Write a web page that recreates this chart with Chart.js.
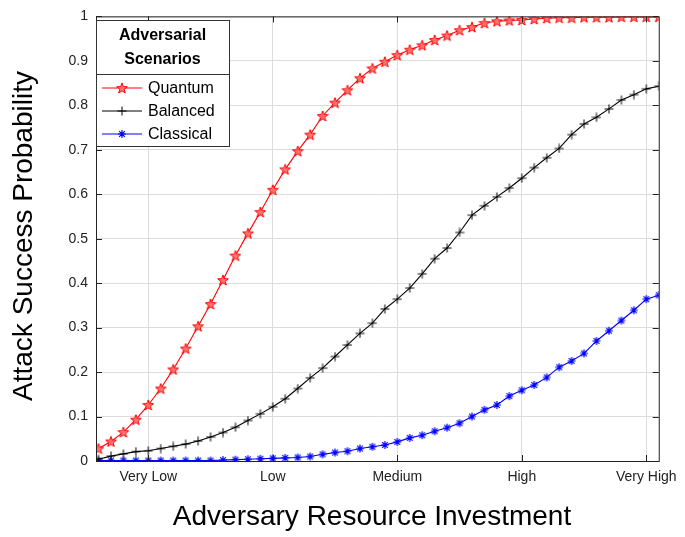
<!DOCTYPE html>
<html><head><meta charset="utf-8">
<script src="https://cdn.jsdelivr.net/npm/chart.js@4"></script>
<style>body{margin:0;background:#fff}canvas{display:block}</style>
</head><body><canvas id="c" width="685" height="537"></canvas>
<script>
const categories=['Very Low','Low','Medium','High','Very High'];
const categoryPositions=[4,14,24,34,44];
const quantum=[0.028,0.044,0.065,0.093,0.126,0.163,0.206,0.253,0.303,0.353,0.407,0.462,0.512,0.560,0.610,0.656,0.697,0.734,0.776,0.806,0.834,0.861,0.883,0.898,0.913,0.925,0.935,0.947,0.957,0.969,0.976,0.985,0.989,0.991,0.992,0.994,0.996,0.997,0.997,0.998,0.998,0.998,0.999,0.999,0.999,0.999];
const balanced=[0.004,0.011,0.016,0.021,0.023,0.028,0.033,0.038,0.045,0.054,0.064,0.076,0.091,0.106,0.122,0.140,0.163,0.187,0.209,0.235,0.261,0.287,0.310,0.342,0.364,0.389,0.421,0.455,0.479,0.514,0.553,0.574,0.594,0.614,0.636,0.660,0.682,0.703,0.734,0.758,0.773,0.792,0.812,0.824,0.837,0.843];
const classical=[0.001,0.001,0.001,0.001,0.001,0.001,0.001,0.001,0.001,0.001,0.002,0.003,0.004,0.005,0.006,0.007,0.008,0.010,0.015,0.019,0.022,0.028,0.032,0.036,0.043,0.052,0.058,0.067,0.075,0.085,0.100,0.115,0.126,0.146,0.159,0.171,0.188,0.211,0.225,0.242,0.270,0.293,0.316,0.339,0.364,0.373];
const seriesNames=['Quantum','Balanced','Classical'];
const yTicks=[0,0.1,0.2,0.3,0.4,0.5,0.6,0.7,0.8,0.9,1];

function mk(size,draw){const c=document.createElement('canvas');c.width=size;c.height=size;const g=c.getContext('2d');draw(g,size/2);return c;}
const pent=mk(12,(g,m)=>{g.beginPath();for(let i=0;i<10;i++){const r=i%2?2.3:5.6;const a=-Math.PI/2+i*Math.PI/5;g.lineTo(m+r*Math.cos(a),m+0.5+r*Math.sin(a));}g.closePath();g.fillStyle='rgba(255,110,110,0.9)';g.fill();g.strokeStyle='#f00';g.lineWidth=1;g.stroke();});
const plus=mk(10,(g,m)=>{g.strokeStyle='#000';g.lineWidth=1;g.beginPath();g.moveTo(m,m-4.5);g.lineTo(m,m+4.5);g.moveTo(m-4.5,m);g.lineTo(m+4.5,m);g.stroke();});
const aster=mk(10,(g,m)=>{g.strokeStyle='#00f';g.lineWidth=1.2;g.beginPath();for(let i=0;i<4;i++){const a=i*Math.PI/4;g.moveTo(m-4*Math.cos(a),m-4*Math.sin(a));g.lineTo(m+4*Math.cos(a),m+4*Math.sin(a));}g.stroke();});
const markers=[pent,plus,aster];const colors=['#ff0000','#000000','#0000ff'];
const sets=[quantum,balanced,classical];

const deco={id:'deco',afterDraw(ch){const g=ch.ctx,a=ch.chartArea;g.save();
g.strokeStyle='#222';g.lineWidth=1;g.strokeRect(a.left+0.5,a.top+0.5,a.right-a.left,a.bottom-a.top);
const x=ch.scales.x,y=ch.scales.y;g.beginPath();
categoryPositions.forEach(v=>{const px=Math.round(x.getPixelForValue(v))+0.5;g.moveTo(px,a.bottom);g.lineTo(px,a.bottom-6);g.moveTo(px,a.top);g.lineTo(px,a.top+6);});
yTicks.forEach(v=>{const py=Math.round(y.getPixelForValue(v))+0.5;g.moveTo(a.left,py);g.lineTo(a.left+6,py);g.moveTo(a.right,py);g.lineTo(a.right-6,py);});g.stroke();
g.fillStyle='#000';g.font='28px Arial, "Liberation Sans"';g.textAlign='center';g.textBaseline='middle';
g.fillText('Adversary Resource Investment',372,517);
g.translate(24,236);g.rotate(-Math.PI/2);g.fillText('Attack Success Probability',0,0);g.restore();
g.save();const L=96,T=20,W=133,H=126;g.fillStyle='#fff';g.fillRect(L,T,W,H);g.strokeStyle='#333';g.lineWidth=1;g.strokeRect(L+0.5,T+0.5,W,H);
g.beginPath();g.moveTo(L,T+54.5);g.lineTo(L+W,T+54.5);g.stroke();
g.fillStyle='#000';g.font='bold 16px Arial, "Liberation Sans"';g.textAlign='center';g.textBaseline='middle';
g.fillText('Adversarial',L+W/2,T+16);g.fillText('Scenarios',L+W/2,T+40);
g.font='16px Arial, "Liberation Sans"';g.textAlign='left';
seriesNames.forEach((n,i)=>{const yy=T+68+i*23;g.strokeStyle=colors[i];g.lineWidth=1;g.beginPath();g.moveTo(L+6,yy);g.lineTo(L+46,yy);g.stroke();
g.drawImage(markers[i],L+26-markers[i].width/2,yy-markers[i].height/2);g.fillStyle='#000';g.fillText(n,L+52,yy+1);});
g.restore();}};

new Chart(document.getElementById('c'),{type:'line',
data:{datasets:sets.map((s,i)=>({label:seriesNames[i],data:s.map((v,k)=>({x:k,y:v})),borderColor:colors[i],backgroundColor:colors[i],borderWidth:1.1,pointStyle:markers[i],pointRadius:5,tension:0,fill:false}))},
options:{responsive:false,animation:false,layout:{padding:{top:3,right:16,left:0,bottom:0}},
plugins:{legend:{display:false},tooltip:{enabled:false}},
scales:{x:{type:'linear',min:-0.2,max:45,afterBuildTicks:s=>{s.ticks=categoryPositions.map(v=>({value:v}));},
ticks:{callback:(v)=>{const i=categoryPositions.indexOf(v);return i>=0?categories[i]:'';},font:{size:14,family:'Arial'},color:'#222',maxRotation:0,autoSkip:false,padding:8},
grid:{color:'#dcdcdc',drawTicks:false},border:{display:false},afterFit:s=>{s.height=76;}},
y:{min:0,max:1,afterBuildTicks:s=>{s.ticks=yTicks.map(v=>({value:v}));},
ticks:{callback:v=>String(Math.round(v*10)/10),font:{size:14,family:'Arial'},color:'#222',padding:8},
grid:{color:'#dcdcdc',drawTicks:false},border:{display:false},afterFit:s=>{s.width=96;}}}},
plugins:[deco]});
</script></body></html>
